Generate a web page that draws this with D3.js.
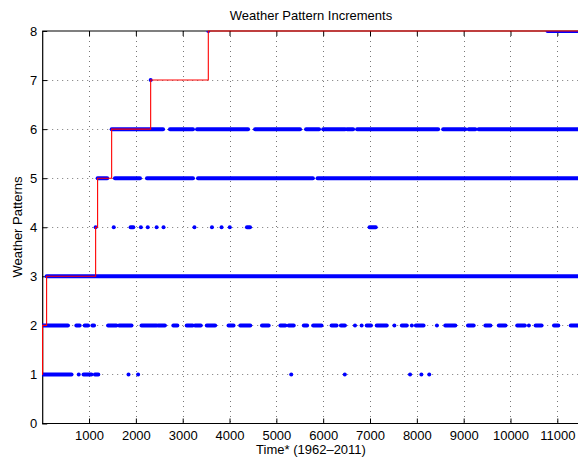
<!DOCTYPE html>
<html>
<head>
    <meta charset="utf-8">
    <title>Weather Pattern Increments</title>
    <script src="https://d3js.org/d3.v7.min.js"></script>
    <style>
        * { margin: 0; padding: 0; }
        body { background: #fff; }
        svg { display: block; font-family: "Liberation Sans", Arial, Helvetica, sans-serif; }
    </style>
</head>
<body>
    <div id="chart"></div>
    <script>
        // runs of observed points per weather pattern: [start, end] in time steps
        var level1 = [[0, 626], [780, 780], [883, 1051], [1125, 1198], [1843, 1843], [2048, 2048],
            [5318, 5318], [6462, 6462], [7855, 7855], [8097, 8097], [8265, 8265]];
        var level2 = [[0, 550], [729, 800], [907, 979], [1071, 1107], [1407, 1586], [1643, 1907],
            [2121, 2443], [2479, 2621], [2800, 2886], [3086, 3214], [3264, 3386], [3514, 3693],
            [3979, 4086], [4229, 4443], [4693, 4836], [5086, 5193], [5264, 5371], [5586, 5657],
            [5786, 5964], [6179, 6286], [6379, 6464], [6679, 6679], [6821, 6821], [6929, 7021],
            [7143, 7357], [7521, 7521], [7679, 7786], [7893, 7893], [7979, 8143], [8429, 8429],
            [8607, 8821], [9093, 9214], [9464, 9571], [9750, 9893], [10143, 10307], [10393, 10393],
            [10536, 10664], [10929, 11021], [11286, 11450]];
        var level3 = [[94, 11450]];
        var level4 = [[1141, 1141], [1528, 1528], [1887, 1946], [2107, 2107], [2254, 2254],
            [2444, 2444], [2591, 2591], [3251, 3251], [3625, 3625], [3830, 3830], [4006, 4006],
            [4372, 4438], [6990, 7122]];
        var level5 = [[1183, 1389], [1553, 2088], [2237, 3220], [3327, 5780], [5880, 11450]];
        var level6 = [[1483, 2581], [2728, 3220], [3306, 4396], [4545, 5506], [5634, 5912],
            [6000, 6468], [6510, 6640], [6724, 8455], [8562, 9036], [9107, 9250], [9320, 11450]];
        var level7 = [[2316, 2316]];
        var level8 = [[3547, 3547], [10790, 11450]];
        var levels = [level1, level2, level3, level4, level5, level6, level7, level8];

        // cumulative number of patterns (red staircase)
        var stepTimes = [0, 8, 94, 1141, 1183, 1483, 2316, 3547, 11450];
        var stepCounts = [1, 2, 3, 4, 5, 6, 7, 8, 8];

        var xTicks = [1000, 2000, 3000, 4000, 5000, 6000, 7000, 8000, 9000, 10000, 11000];
        var yTicks = [0, 1, 2, 3, 4, 5, 6, 7, 8];

        var W = 578, H = 457;
        var plotLeft = 42.2, plotRight = 578.4, plotTop = 31, plotBottom = 423.5;

        var svg = d3.select("#chart").append("svg")
            .attr("width", W).attr("height", H);

        svg.append("clipPath").attr("id", "plotclip").append("rect")
            .attr("x", plotLeft).attr("y", plotTop)
            .attr("width", W - plotLeft).attr("height", plotBottom - plotTop);

        var x = d3.scaleLinear().domain([0, 11450]).range([plotLeft, plotRight]);
        var y = d3.scaleLinear().domain([0, 8]).range([plotBottom, plotTop]);

        // dotted grid
        var grid = svg.append("g").attr("stroke", "#777").attr("stroke-width", 1)
            .attr("stroke-dasharray", "1,4");
        grid.selectAll(".gx").data(xTicks).enter().append("line")
            .attr("x1", function (d) { return Math.round(x(d)) + 0.5; })
            .attr("x2", function (d) { return Math.round(x(d)) + 0.5; })
            .attr("y1", plotTop).attr("y2", plotBottom);
        grid.selectAll(".gy").data(yTicks.slice(1, 8)).enter().append("line")
            .attr("x1", plotLeft).attr("x2", W)
            .attr("y1", function (d) { return Math.round(y(d)) + 0.5; })
            .attr("y2", function (d) { return Math.round(y(d)) + 0.5; });

        // axes
        var fs = "13px";
        var xAxis = svg.append("g").attr("transform", "translate(0," + plotBottom + ")")
            .call(d3.axisBottom(x).tickValues(xTicks).tickFormat(d3.format("d"))
                .tickSizeInner(-5).tickSizeOuter(0).tickPadding(7));
        var xTop = svg.append("g").attr("transform", "translate(0," + plotTop + ")")
            .call(d3.axisTop(x).tickValues(xTicks).tickSizeInner(-5).tickSizeOuter(0).tickFormat(""));
        var yAxis = svg.append("g").attr("transform", "translate(" + plotLeft + ",0)")
            .call(d3.axisLeft(y).tickValues(yTicks).tickFormat(d3.format("d"))
                .tickSizeInner(-5).tickSizeOuter(0).tickPadding(5));
        [xAxis, xTop, yAxis].forEach(function (g) {
            g.select(".domain").attr("stroke", "#000").attr("stroke-width", 1.2);
            g.selectAll(".tick line").attr("stroke", "#000");
            g.selectAll("text").attr("font-size", fs).attr("fill", "#000")
                .attr("font-family", "'Liberation Sans', Arial, sans-serif");
        });
        xTop.select(".domain").attr("d", "M" + plotLeft + ",0H" + W);
        xAxis.select(".domain").attr("d", "M" + plotLeft + ",0H" + W);

        // blue observations (clipped to the axes box like the original)
        var obs = svg.append("g").attr("clip-path", "url(#plotclip)")
            .attr("stroke", "#0000ff").attr("stroke-width", 4)
            .attr("stroke-linecap", "round");
        levels.forEach(function (runs, i) {
            obs.selectAll(".r" + i).data(runs).enter().append("line")
                .attr("x1", function (d) { return x(d[0]); })
                .attr("x2", function (d) { return x(d[1]); })
                .attr("y1", y(i + 1)).attr("y2", y(i + 1));
        });

        // red staircase
        var stairs = stepTimes.map(function (t, i) { return [t, stepCounts[i]]; });
        var line = d3.line()
            .x(function (d) { return x(d[0]); })
            .y(function (d) { return y(d[1]); })
            .curve(d3.curveStepAfter);
        svg.append("path").datum(stairs)
            .attr("d", line)
            .attr("fill", "none")
            .attr("stroke", "#ff0000")
            .attr("stroke-width", 1.1);

        // titles
        svg.append("text").attr("x", 311).attr("y", 20)
            .attr("text-anchor", "middle").attr("font-size", "13px")
            .text("Weather Pattern Increments");
        svg.append("text").attr("x", 311).attr("y", 454)
            .attr("text-anchor", "middle").attr("font-size", "13px")
            .text("Time* (1962\u20132011)");
        svg.append("text")
            .attr("transform", "translate(22," + 227 + ") rotate(-90)")
            .attr("text-anchor", "middle").attr("font-size", "13px")
            .text("Weather Patterns");
    </script>
</body>
</html>
